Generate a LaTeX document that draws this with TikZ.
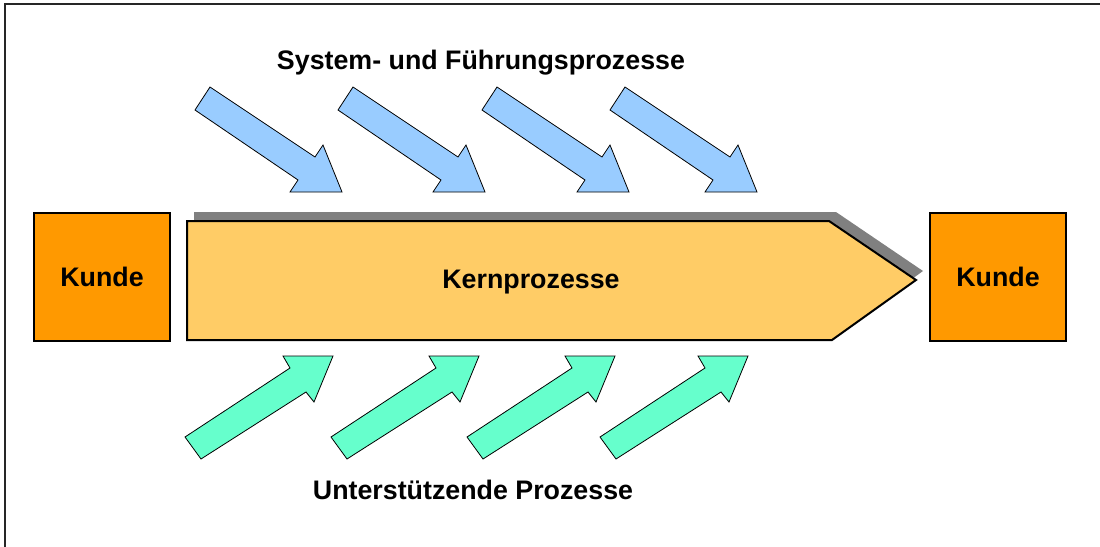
\documentclass[tikz,border=0pt]{standalone}
\usepackage{fontspec}
\setmainfont{Liberation Sans}
\begin{document}
\begin{tikzpicture}[x=1pt,y=-1pt,
  lbl/.style={font=\fontsize{26.8}{30}\selectfont\bfseries, inner sep=0pt, anchor=center},
  kunde/.style={draw=black, line width=2pt, fill=kundeorange, minimum width=136pt, minimum height=128pt, inner sep=0pt, font=\fontsize{26.8}{30}\selectfont\bfseries},
  blue arrow/.style={draw=black, line width=0.8pt, fill=arrowblue, line join=miter},
  green arrow/.style={draw=black, line width=0.8pt, fill=arrowgreen, line join=miter}]
\definecolor{kundeorange}{HTML}{FF9900}
\definecolor{kernfill}{HTML}{FFCC66}
\definecolor{arrowblue}{HTML}{99CCFF}
\definecolor{arrowgreen}{HTML}{66FFCC}
\definecolor{shadowgray}{HTML}{808080}
\useasboundingbox (0,0) rectangle (1100,546);
% frame
\draw[line width=2pt, draw=black!85] (5,547) -- (5,4) -- (1101,4);
% shadow of main shape
\fill[shadowgray] (194,212) -- (836,212) -- (923,271) -- (839,332) -- (194,332) -- cycle;
% main shape
\draw[line width=2pt, fill=kernfill, line join=miter] (187,221) -- (829,221) -- (916,280) -- (832,340) -- (187,340) -- cycle;
\node[lbl] (kern) at (531,282) {Kernprozesse};
% customers
\node[kunde] (k1) at (102,276.5) {Kunde};
\node[kunde] (k2) at (998,277) {Kunde};
% blue arrows
\foreach \dx in {0,143,287,415}{
  \draw[blue arrow, shift={(\dx,0)}] (210,87) -- (315,157) -- (323,145) -- (342,192) -- (290,192) -- (298,180) -- (195,110) -- cycle;
}
% green arrows
\foreach \dx in {0,146,282,415}{
  \draw[green arrow, shift={(\dx,0)}] (185,437) -- (290,368) -- (283,356) -- (333,356) -- (314,402) -- (306,392) -- (201,459) -- cycle;
}
\node[lbl] (top) at (481,63) {System- und Führungsprozesse};
\node[lbl] (bottom) at (473,490) {Unterstützende Prozesse};
\end{tikzpicture}
\end{document}
